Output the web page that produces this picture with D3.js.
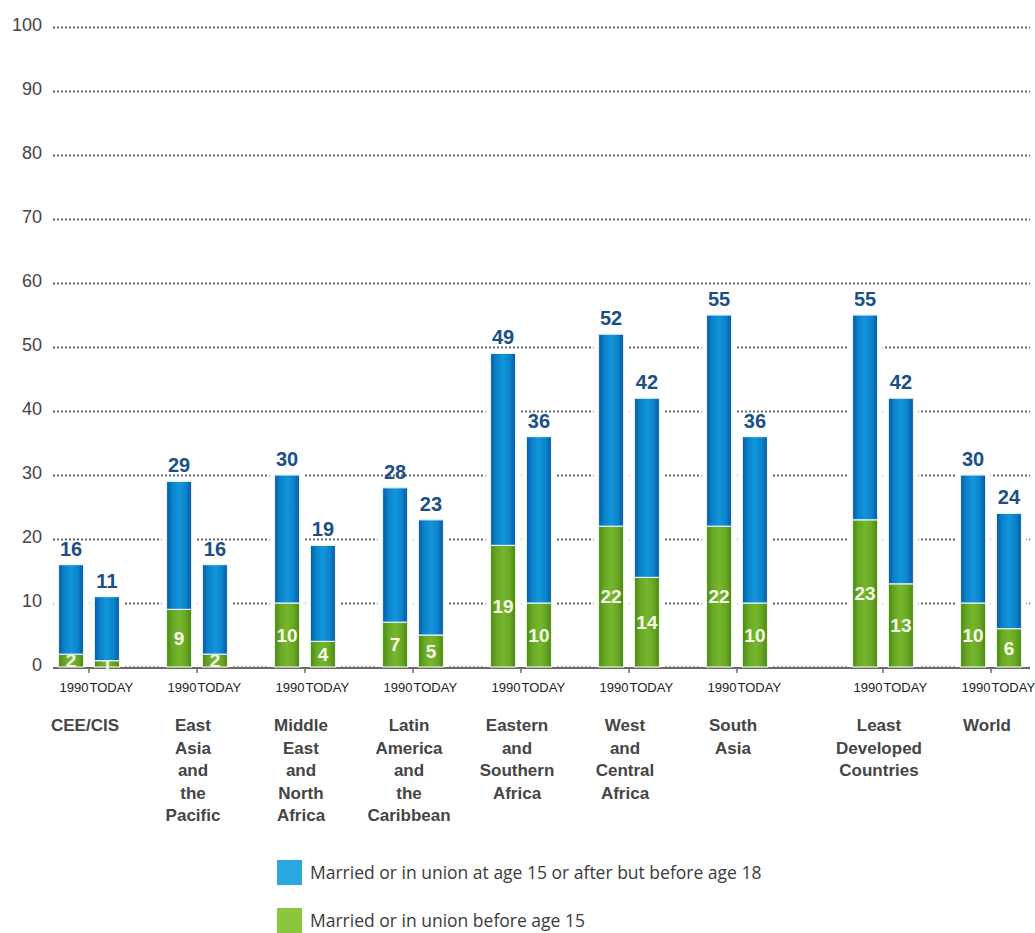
<!DOCTYPE html>
<html>
<head>
<meta charset="utf-8">
<script src="https://cdn.jsdelivr.net/npm/d3@7"></script>
<style>
  body { margin: 0; background: #fff; }
  svg { display: block; font-family: "Liberation Sans", Arial, sans-serif; }
</style>
</head>
<body>
<svg id="chart"></svg>
<script>
// regions (left block) and aggregates (right block)
const regions = ["CEE/CIS", "East Asia and the Pacific", "Middle East and North Africa",
  "Latin America and the Caribbean", "Eastern and Southern Africa", "West and Central Africa", "South Asia"];
const aggregates = ["Least Developed Countries", "World"];
const groups = regions.concat(aggregates);
const groupLines = [
  ["CEE/CIS"],
  ["East", "Asia", "and", "the", "Pacific"],
  ["Middle", "East", "and", "North", "Africa"],
  ["Latin", "America", "and", "the", "Caribbean"],
  ["Eastern", "and", "Southern", "Africa"],
  ["West", "and", "Central", "Africa"],
  ["South", "Asia"],
  ["Least", "Developed", "Countries"],
  ["World"]
];
const years = ["1990", "TODAY"];

// total married before 18, and married before 15
const total1990 = [16, 29, 30, 28, 49, 52, 55, 55, 30];
const totalToday = [11, 16, 19, 23, 36, 42, 36, 42, 24];
const before15_1990 = [2, 9, 10, 7, 19, 22, 22, 23, 10];
const before15Today = [1, 2, 4, 5, 10, 14, 10, 13, 6];

const yTicks = [0, 10, 20, 30, 40, 50, 60, 70, 80, 90, 100];
const legendLabels = ["Married or in union at age 15 or after but before age 18", "Married or in union before age 15"];

const width = 1035;
const height = 933;
const margin = { top: 27, right: 5, bottom: 266, left: 53 };

const svg = d3.select("svg#chart")
  .attr("width", width)
  .attr("height", height);

const defs = svg.append("defs");
function barGradient(id, edge, mid, center) {
  const g = defs.append("linearGradient").attr("id", id)
    .attr("x1", "0%").attr("x2", "100%").attr("y1", "0%").attr("y2", "0%");
  [[0, edge], [0.22, mid], [0.5, center], [0.78, mid], [1, edge]].forEach(s => {
    g.append("stop").attr("offset", s[0]).attr("stop-color", s[1]);
  });
}
barGradient("gradBlue", "#0a56a0", "#0a82ca", "#1396dc");
barGradient("gradGreen", "#4a8615", "#66a623", "#76b72d");

const y = d3.scaleLinear().domain([0, 100]).range([height - margin.bottom, margin.top]);

const xRegions = d3.scalePoint().domain(regions).range([89, 737]);
const xAggr = d3.scalePoint().domain(aggregates).range([883, 991]);
const x0 = g => regions.includes(g) ? xRegions(g) : xAggr(g);
const x1 = d3.scaleBand().domain(years).range([-30.5, 30.5]).paddingInner(0.3);

// grid + y labels
const yAxis = d3.axisLeft(y)
  .tickValues(yTicks)
  .tickSize(-(width - margin.right - margin.left))
  .tickPadding(11);

const gridG = svg.append("g")
  .attr("transform", "translate(" + margin.left + ",0)")
  .call(yAxis);
gridG.select(".domain").remove();
gridG.selectAll(".tick line")
  .attr("stroke", "#666")
  .attr("stroke-width", 2)
  .attr("stroke-dasharray", "2,2");
gridG.selectAll(".tick text")
  .attr("fill", "#444")
  .attr("dy", "0.2em")
  .style("font-size", "18px")
  .style("font-family", "'Liberation Sans', Arial, sans-serif");

// rows for the stack
const rows = [];
groups.forEach((g, i) => {
  rows.push({ group: g, year: "1990", before15: before15_1990[i], between: total1990[i] - before15_1990[i], total: total1990[i] });
  rows.push({ group: g, year: "TODAY", before15: before15Today[i], between: totalToday[i] - before15Today[i], total: totalToday[i] });
});
const series = d3.stack().keys(["before15", "between"])(rows);
const barX = d => x0(d.data.group) + x1(d.data.year);

// white halo behind bars cuts the dotted grid
svg.append("g").selectAll("rect")
  .data(series[1])
  .enter()
  .append("rect")
  .attr("x", d => barX(d) - 5)
  .attr("y", d => y(d[1]) - 3)
  .attr("width", x1.bandwidth() + 10)
  .attr("height", d => y(0) - y(d[1]) + 3)
  .attr("fill", "#fff");

// baseline and ticks
svg.append("line")
  .attr("x1", margin.left).attr("x2", width - margin.right)
  .attr("y1", y(0) + 1).attr("y2", y(0) + 1)
  .attr("stroke", "#6b6b6b").attr("stroke-width", 2);
svg.append("g").selectAll("line")
  .data(groups)
  .enter()
  .append("line")
  .attr("x1", d => x0(d)).attr("x2", d => x0(d))
  .attr("y1", y(0)).attr("y2", y(0) + 6)
  .attr("stroke", "#6b6b6b").attr("stroke-width", 1.5);

// green segments
svg.append("g").selectAll("rect")
  .data(series[0])
  .enter()
  .append("rect")
  .attr("x", barX)
  .attr("y", d => y(d[1]))
  .attr("width", x1.bandwidth())
  .attr("height", d => y(d[0]) - y(d[1]))
  .attr("fill", "url(#gradGreen)")
  .attr("stroke", "#eaf5d8")
  .attr("stroke-width", 1.2);

svg.append("g").selectAll("text")
  .data(series[0])
  .enter()
  .append("text")
  .attr("x", d => barX(d) + x1.bandwidth() / 2)
  .attr("y", d => (y(d[0]) + y(d[1])) / 2)
  .attr("dy", "0.36em")
  .attr("text-anchor", "middle")
  .attr("fill", "#f6fae8")
  .style("font-size", "19px")
  .style("font-weight", "bold")
  .text(d => d.data.before15);

// blue segments
svg.append("g").selectAll("rect")
  .data(series[1])
  .enter()
  .append("rect")
  .attr("x", barX)
  .attr("y", d => y(d[1]))
  .attr("width", x1.bandwidth())
  .attr("height", d => y(d[0]) - y(d[1]))
  .attr("fill", "url(#gradBlue)")
  .attr("stroke", "#e3f1fa")
  .attr("stroke-width", 1.2);

// totals
svg.append("g").selectAll("text")
  .data(series[1])
  .enter()
  .append("text")
  .attr("x", d => barX(d) + x1.bandwidth() / 2)
  .attr("y", d => y(d[1]) - 9)
  .attr("text-anchor", "middle")
  .attr("fill", "#1b4f88")
  .style("font-size", "20px")
  .style("font-weight", "bold")
  .text(d => d.data.total);

// year labels
const yearG = svg.append("g");
groups.forEach(g => {
  yearG.append("text")
    .attr("x", x0(g) - 0.5).attr("y", y(0) + 25)
    .attr("text-anchor", "end")
    .attr("fill", "#222")
    .style("font-size", "13px")
    .text(years[0]);
  yearG.append("text")
    .attr("x", x0(g) + 0.5).attr("y", y(0) + 25)
    .attr("text-anchor", "start")
    .attr("fill", "#222")
    .style("font-size", "13px")
    .text(years[1]);
});

// group names
svg.append("g").selectAll("text")
  .data(groups)
  .enter()
  .append("text")
  .attr("text-anchor", "middle")
  .attr("fill", "#454545")
  .style("font-size", "17px")
  .style("font-weight", "bold")
  .each(function(g, i) {
    const t = d3.select(this);
    groupLines[i].forEach((line, j) => {
      t.append("tspan")
        .attr("x", x0(g) - 4)
        .attr("y", 731 + j * 22.5)
        .text(line);
    });
  });

// legend
const legendColors = ["#29a8e0", "#8cc63f"];
const legend = svg.append("g").selectAll("g")
  .data(legendLabels)
  .enter()
  .append("g")
  .attr("transform", (d, i) => "translate(277," + (860 + i * 48) + ")");
legend.append("rect")
  .attr("width", 25).attr("height", 25)
  .attr("fill", (d, i) => legendColors[i]);
legend.append("text")
  .attr("x", 33).attr("y", 13)
  .attr("dy", "0.35em")
  .attr("fill", "#3b3b3b")
  .style("font-family", "'Open Sans', 'Liberation Sans', sans-serif")
  .style("font-size", "17.5px")
  .text(d => d);
</script>
</body>
</html>
